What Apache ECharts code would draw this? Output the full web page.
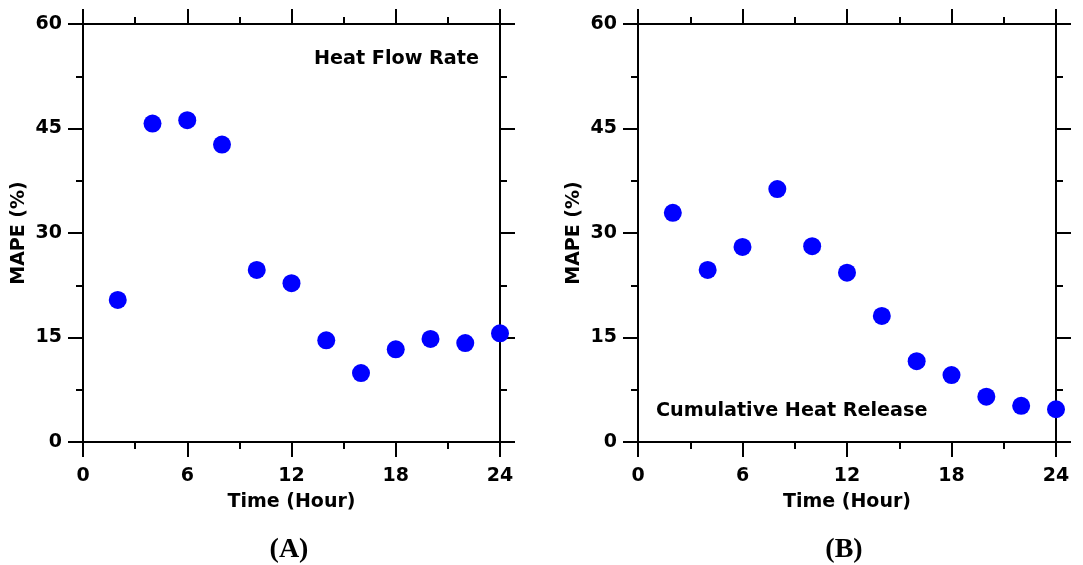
<!DOCTYPE html>
<html>
<head>
<meta charset="utf-8">
<script src="https://cdn.jsdelivr.net/npm/echarts@6/dist/echarts.min.js"></script>
<style>html,body{margin:0;padding:0;background:#fff}#c{width:1083px;height:565px}</style>
</head>
<body>
<div id="c"></div>
<script>
const hours = [2, 4, 6, 8, 10, 12, 14, 16, 18, 20, 22, 24];
const heatFlowRate = [20.4, 45.7, 46.2, 42.7, 24.7, 22.8, 14.6, 9.9, 13.3, 14.8, 14.2, 15.6];
const cumulativeHeat = [32.9, 24.7, 28.0, 36.3, 28.1, 24.3, 18.1, 11.6, 9.6, 6.5, 5.2, 4.7];
const xTicks = [0, 6, 12, 18, 24];
const yTicks = [0, 15, 30, 45, 60];
const panelLabels = ['(A)', '(B)'];
const panelTitles = ['Heat Flow Rate', 'Cumulative Heat Release'];

const FONT = 'DejaVu Sans';
const lineStyle = {color: '#000', width: 2};

function xAx(gi, pos, labels) {
  return {
    gridIndex: gi, type: 'value', position: pos,
    min: xTicks[0], max: xTicks[xTicks.length - 1], interval: xTicks[1] - xTicks[0],
    name: labels ? 'Time (Hour)' : '', nameLocation: 'middle', nameGap: 51,
    nameTextStyle: {fontFamily: FONT, fontWeight: 'bold', fontSize: 19, color: '#000'},
    axisLine: {show: true, onZero: false, lineStyle},
    axisTick: {show: true, inside: false, length: 15, lineStyle},
    minorTick: {show: true, splitNumber: 2, length: 7, lineStyle},
    axisLabel: {show: labels, margin: 25, fontFamily: FONT, fontWeight: 'bold', fontSize: 19, color: '#000'},
    splitLine: {show: false}, minorSplitLine: {show: false}
  };
}
function yAx(gi, pos, labels) {
  return {
    gridIndex: gi, type: 'value', position: pos,
    min: yTicks[0], max: yTicks[yTicks.length - 1], interval: yTicks[1] - yTicks[0],
    name: labels ? 'MAPE (%)' : '', nameLocation: 'middle', nameGap: 54,
    nameTextStyle: {fontFamily: FONT, fontWeight: 'bold', fontSize: 19, color: '#000'},
    axisLine: {show: true, onZero: false, lineStyle},
    axisTick: {show: true, inside: false, length: 15, lineStyle},
    minorTick: {show: true, splitNumber: 2, length: 7, lineStyle},
    axisLabel: {show: labels, margin: 21, fontFamily: FONT, fontWeight: 'bold', fontSize: 19, color: '#000'},
    splitLine: {show: false}, minorSplitLine: {show: false}
  };
}

const chart = echarts.init(document.getElementById('c'), null, {renderer: 'canvas'});
chart.setOption({
  animation: false,
  backgroundColor: '#fff',
  grid: [
    {left: 83, top: 24, width: 417, height: 418},
    {left: 638, top: 24, width: 418, height: 418}
  ],
  xAxis: [xAx(0, 'bottom', true), xAx(0, 'top', false), xAx(1, 'bottom', true), xAx(1, 'top', false)],
  yAxis: [yAx(0, 'left', true), yAx(0, 'right', false), yAx(1, 'left', true), yAx(1, 'right', false)],
  series: [
    {type: 'scatter', xAxisIndex: 0, yAxisIndex: 0, symbolSize: 18,
     itemStyle: {color: '#0000FF', opacity: 1},
     data: hours.map((h, i) => [h, heatFlowRate[i]])},
    {type: 'scatter', xAxisIndex: 2, yAxisIndex: 2, symbolSize: 18,
     itemStyle: {color: '#0000FF', opacity: 1},
     data: hours.map((h, i) => [h, cumulativeHeat[i]])}
  ],
  graphic: [
    {type: 'text', x: 479, y: 59,
     style: {text: panelTitles[0], fontFamily: FONT, fontWeight: 'bold', fontSize: 19.2, fill: '#000', align: 'right', verticalAlign: 'middle'}},
    {type: 'text', x: 656, y: 411,
     style: {text: panelTitles[1], fontFamily: FONT, fontWeight: 'bold', fontSize: 19.2, fill: '#000', align: 'left', verticalAlign: 'middle'}},
    {type: 'text', x: 289, y: 550,
     style: {text: panelLabels[0], fontFamily: 'Liberation Serif', fontWeight: 'bold', fontSize: 28, fill: '#000', align: 'center', verticalAlign: 'middle'}},
    {type: 'text', x: 844, y: 550,
     style: {text: panelLabels[1], fontFamily: 'Liberation Serif', fontWeight: 'bold', fontSize: 28, fill: '#000', align: 'center', verticalAlign: 'middle'}}
  ]
});
</script>
</body>
</html>
